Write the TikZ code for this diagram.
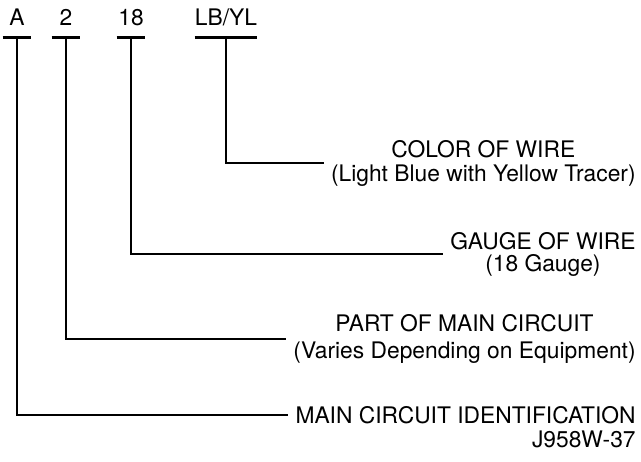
\documentclass[tikz,border=0pt]{standalone}
\usepackage{fontspec}
\setmainfont{TeX Gyre Heros}
\usetikzlibrary{positioning}

\begin{document}
\begin{tikzpicture}[
  x=0.5pt, y=-0.5pt,
  font=\fontsize{11.4}{12}\selectfont,
  code/.style={anchor=base,inner sep=0pt,text depth=6pt,minimum width=14pt},
  bar/.style={draw,line width=1.6pt},
  lead/.style={draw,line width=1.1pt},
  desc/.style={anchor=east,align=center,inner ysep=0pt,inner xsep=3.5pt},
]
\useasboundingbox (0,0) rectangle (641,461);

% ---------- wire code ----------
\node[code] (cA)  at (17,25)  {A};
\node[code] (c2)  at (66,25)  {2};
\node[code] (c18) at (131,25) {18};
\node[code] (cLB) at (226,25) {LB/YL};

\draw[bar] (cA.south west)  -- (cA.south east);
\draw[bar] (c2.south west)  -- (c2.south east);
\draw[bar] (c18.south west) -- (c18.south east);
\draw[bar] (cLB.south west) -- (cLB.south east);

% ---------- meanings ----------
\node[desc] (color) at (643,163) {COLOR OF WIRE\\(Light Blue with Yellow Tracer)};
\node[desc,font=\fontsize{11.4}{11}\selectfont] (gauge) at (643,254) {GAUGE OF WIRE\\(18 Gauge)};
\node[desc,font=\fontsize{11.4}{13.5}\selectfont] (part) at (643,339) {PART OF MAIN CIRCUIT\\(Varies Depending on Equipment)};
\node[desc] (main)  at (643,415) {MAIN CIRCUIT IDENTIFICATION};
\node[desc] (fig)   at (643,439) {J958W-37};

% ---------- leaders ----------
\draw[lead] (cLB.south) |- (color.west);
\draw[lead] (c18.south) |- (gauge.west);
\draw[lead] (c2.south)  |- (part.west);
\draw[lead] (cA.south)  |- (main.west);

\end{tikzpicture}
\end{document}
